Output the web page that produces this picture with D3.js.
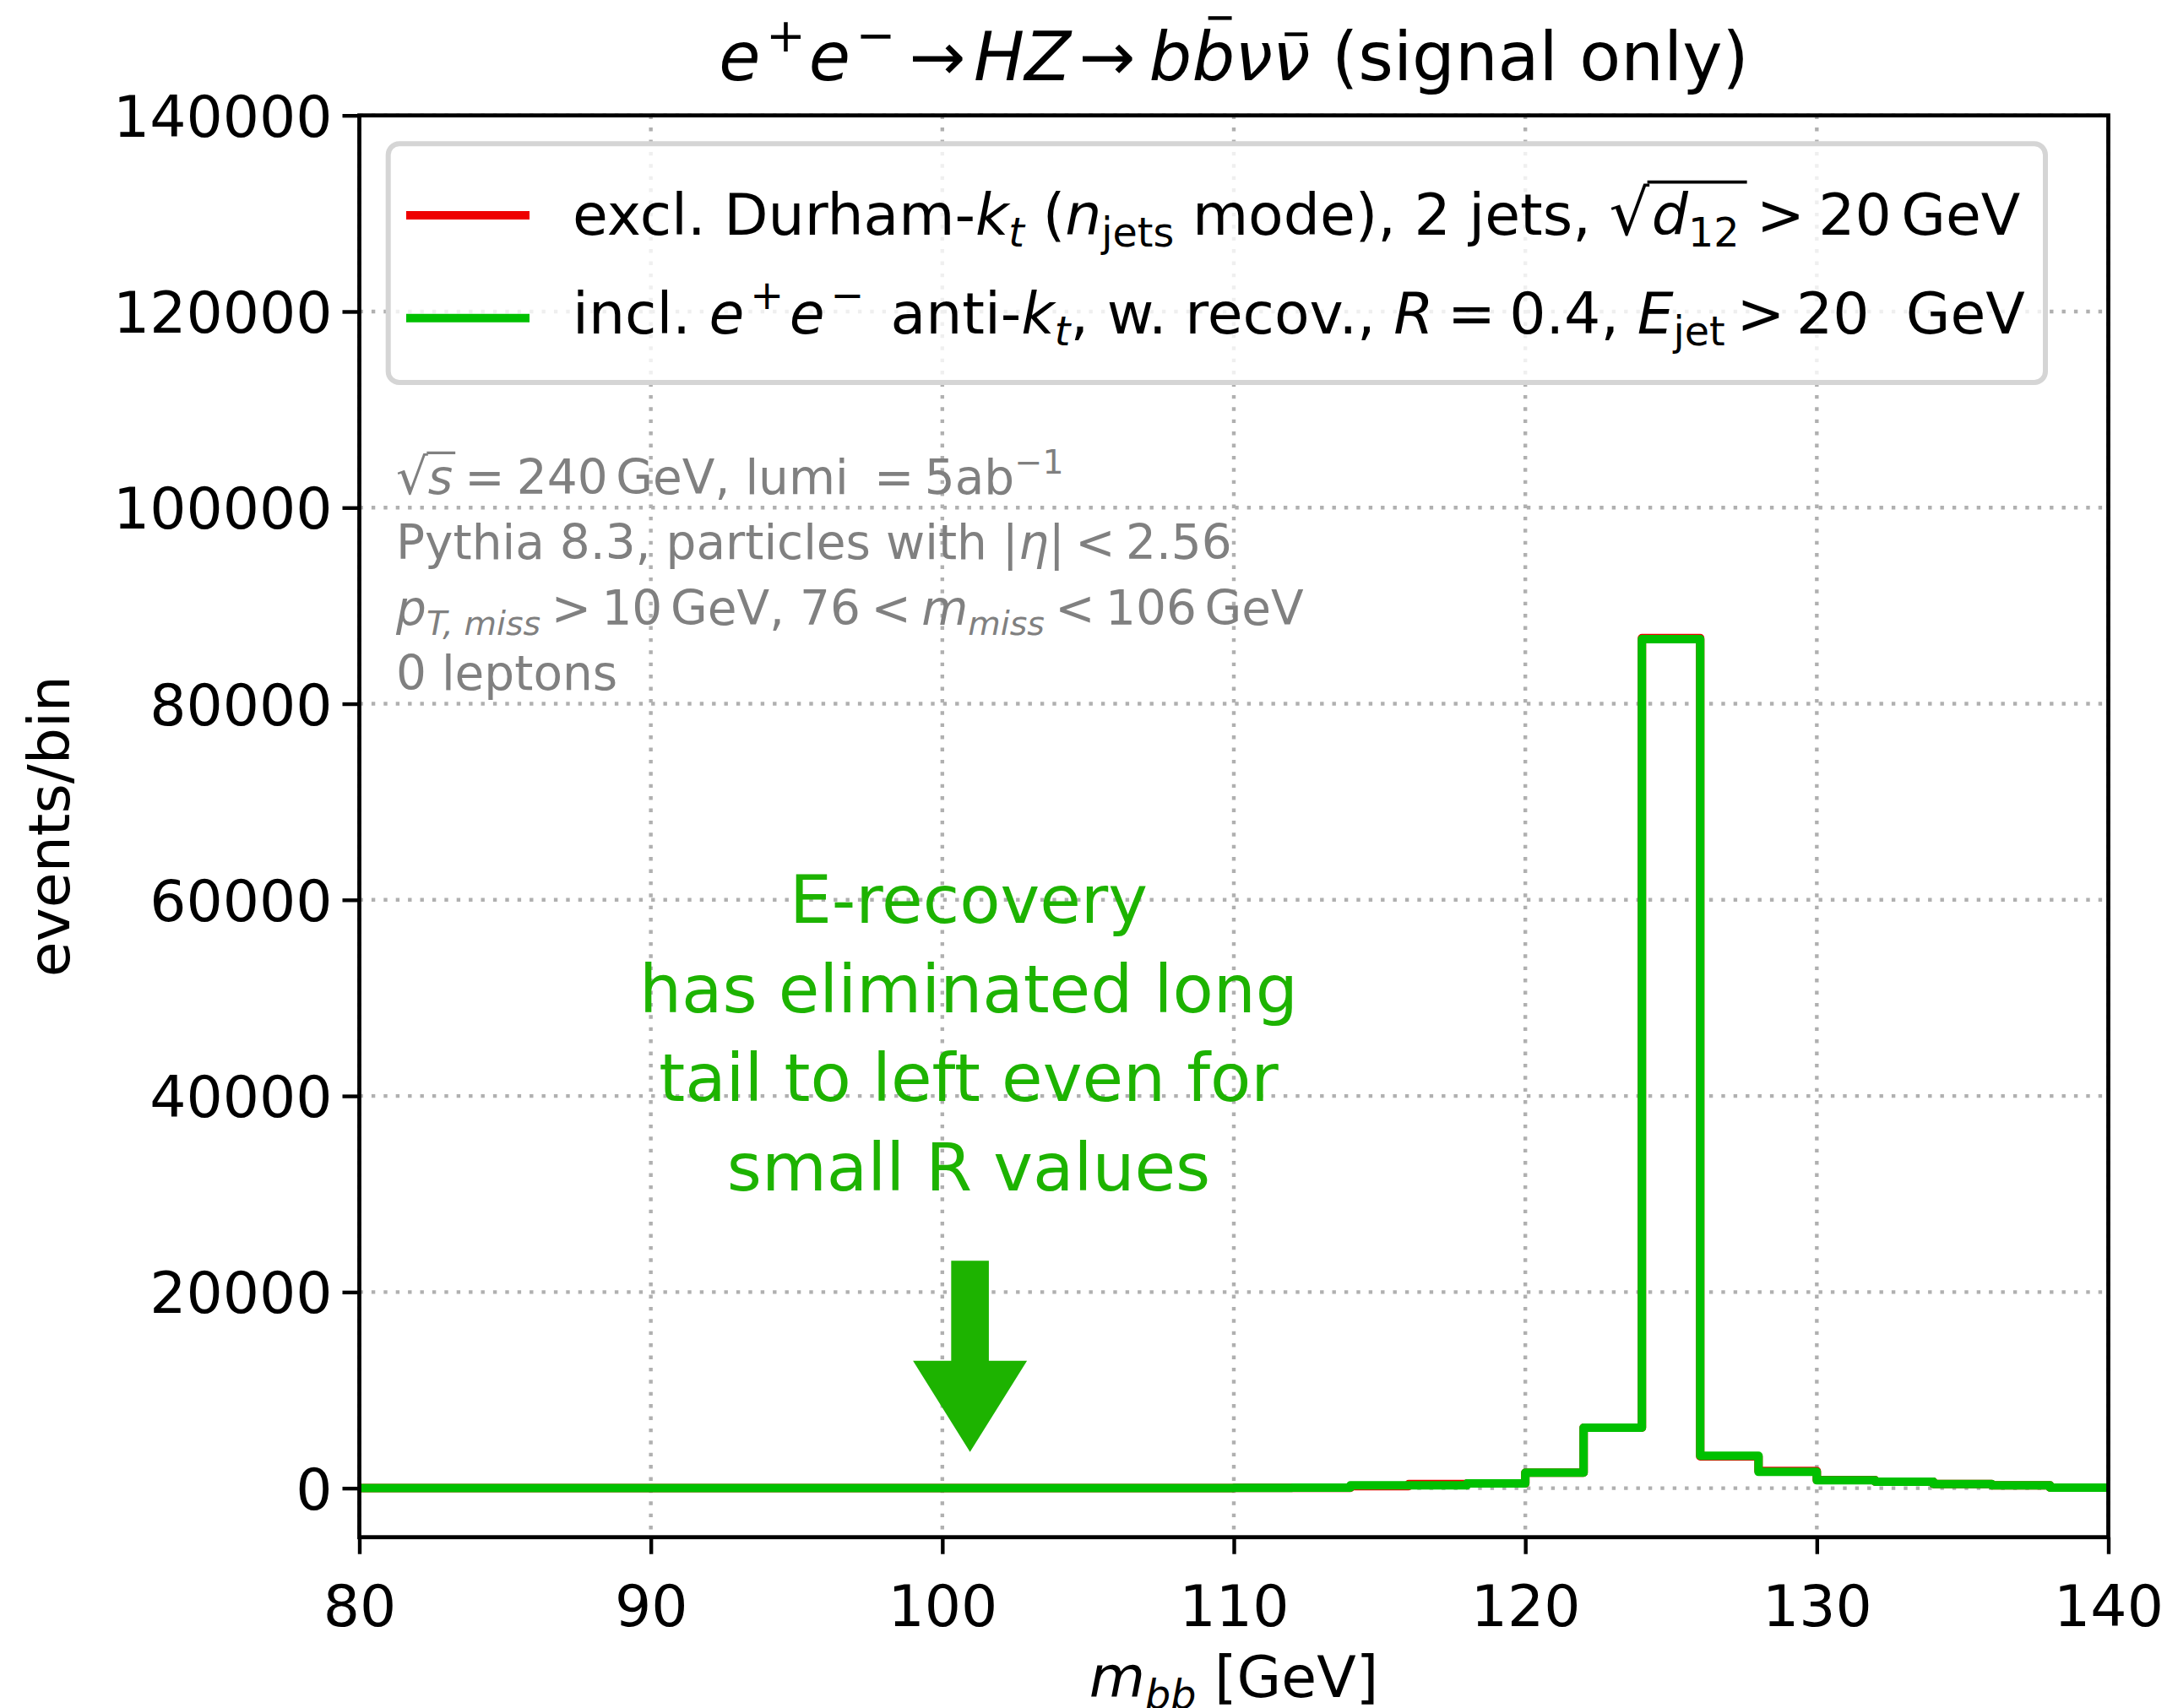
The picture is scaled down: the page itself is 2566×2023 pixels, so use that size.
<!DOCTYPE html>
<html>
<head>
<meta charset="utf-8">
<script src="https://cdn.jsdelivr.net/npm/d3@7"></script>
<style>
  html, body { margin: 0; padding: 0; background: #fff; }
  svg { display: block; }
  text { font-family: "DejaVu Sans", sans-serif; white-space: pre; }
</style>
</head>
<body>
<svg id="chart" width="2566" height="2023"></svg>
<script>
// ---- data: m_bb histogram, 2 GeV bins from 80 to 140 GeV ----
const binLow = [80, 82, 84, 86, 88, 90, 92, 94, 96, 98,
                100, 102, 104, 106, 108, 110, 112, 114, 116, 118,
                120, 122, 124, 126, 128, 130, 132, 134, 136, 138];
const binUpper = 140;

// excl. Durham-kt, 2 jets
const durhamCounts = [10, 10, 10, 10, 10, 10, 10, 10, 10, 10,
                      20, 20, 20, 20, 20, 30, 40, 200, 420, 490,
                      1580, 6170, 86700, 3250, 1750, 820, 660, 430, 290, 60];
// incl. e+e- anti-kt with energy recovery, R = 0.4
const antiktCounts = [10, 10, 10, 10, 10, 10, 10, 10, 10, 10,
                      20, 20, 20, 20, 20, 40, 60, 290, 290, 490,
                      1580, 6170, 86590, 3300, 1660, 800, 660, 430, 290, 60];

const xTickValues = [80, 90, 100, 110, 120, 130, 140];
const xTickLabels = ["80", "90", "100", "110", "120", "130", "140"];
const yTickValues = [0, 20000, 40000, 60000, 80000, 100000, 120000, 140000];
const yTickLabels = ["0", "20000", "40000", "60000", "80000", "100000", "120000", "140000"];

const seriesColors = ["#ee0000", "#00c000"];
const annotationColor = "#1db300";

// ---- layout ----
const svg = d3.select("#chart");
const plot = { left: 425.5, right: 2496.5, top: 136.7, bottom: 1820.7 };

const x = d3.scaleLinear().domain([80, 140]).range([plot.left, plot.right]);
const y = d3.scaleLinear().domain([-5000, 140000]).range([plot.bottom, plot.top]);

// Lays out a run of text pieces (italic, sub/superscripts, overbars) one after another.
function richText(parent, segs, px, py, opt) {
  const fs = opt.size, fill = opt.fill || "#000";
  const g = parent.append("g");
  let cx = 0;
  const bars = {};
  segs.forEach(s => {
    const sc = s.s || 1;
    cx += (s.gap || 0) * fs;
    const t = g.append("text")
      .attr("x", cx)
      .attr("y", (s.dy || 0) * fs)
      .attr("font-size", fs * sc)
      .attr("font-style", s.it ? "italic" : "normal")
      .attr("fill", fill)
      .text(s.t);
    const w = t.node().getComputedTextLength();
    if (s.bar) {
      const key = s.bar.id;
      const a = cx + w * (s.bar.a != null ? s.bar.a : 0) + (s.bar.sk || 0) * fs;
      const b = cx + w * (s.bar.b != null ? s.bar.b : 1) + (s.bar.sk || 0) * fs;
      if (!bars[key]) bars[key] = { x0: a, x1: b, h: s.bar.h };
      else { bars[key].x0 = Math.min(bars[key].x0, a); bars[key].x1 = Math.max(bars[key].x1, b); }
    }
    cx += w + (s.after || 0) * fs;
  });
  Object.values(bars).forEach(bb => {
    g.append("line")
      .attr("x1", bb.x0).attr("x2", bb.x1)
      .attr("y1", -bb.h * fs).attr("y2", -bb.h * fs)
      .attr("stroke", fill).attr("stroke-width", fs * 0.055);
  });
  const shift = opt.anchor === "middle" ? -cx / 2 : opt.anchor === "end" ? -cx : 0;
  g.attr("transform", `translate(${px},${py}) rotate(${opt.rotate || 0}) translate(${shift},0)`);
  return g;
}

// ---- grid ----
const grid = svg.append("g").attr("stroke", "#b0b0b0").attr("stroke-width", 4.4)
  .attr("stroke-dasharray", "4.4,10");
grid.selectAll("line.gx").data(xTickValues).join("line")
  .attr("x1", d => x(d)).attr("x2", d => x(d))
  .attr("y1", plot.top).attr("y2", plot.bottom);
grid.selectAll("line.gy").data(yTickValues).join("line")
  .attr("y1", d => y(d)).attr("y2", d => y(d))
  .attr("x1", plot.left).attr("x2", plot.right);

// ---- histograms (step outlines) ----
svg.append("clipPath").attr("id", "plotClip").append("rect")
  .attr("x", plot.left).attr("y", plot.top)
  .attr("width", plot.right - plot.left).attr("height", plot.bottom - plot.top);

function stepPoints(counts) {
  const pts = binLow.map((lo, i) => [lo, counts[i]]);
  pts.push([binUpper, counts[counts.length - 1]]);
  return pts;
}
const stepLine = d3.line().x(d => x(d[0])).y(d => y(d[1])).curve(d3.curveStepAfter);

const hist = svg.append("g").attr("clip-path", "url(#plotClip)");
[durhamCounts, antiktCounts].forEach((counts, i) => {
  hist.append("path")
    .attr("d", stepLine(stepPoints(counts)))
    .attr("fill", "none")
    .attr("stroke", seriesColors[i])
    .attr("stroke-width", 10)
    .attr("stroke-linejoin", "round");
});

// ---- legend ----
const legend = svg.append("g");
legend.append("rect")
  .attr("x", 459.7).attr("y", 170.3)
  .attr("width", 1962.3).attr("height", 282.7)
  .attr("rx", 13).attr("ry", 13)
  .attr("fill", "#fff").attr("fill-opacity", 0.8)
  .attr("stroke", "#d5d5d5").attr("stroke-width", 6);
const legendRows = [255, 376.7];
legendRows.forEach((ly, i) => {
  legend.append("line")
    .attr("x1", 481).attr("x2", 627).attr("y1", ly).attr("y2", ly)
    .attr("stroke", seriesColors[i]).attr("stroke-width", 10);
});
const LF = 68;
richText(legend, [
  { t: "excl. Durham-" },
  { t: "k", it: 1 },
  { t: "t", it: 1, s: 0.7, dy: 0.2 },
  { t: " (" },
  { t: "n", it: 1 },
  { t: "jets", s: 0.7, dy: 0.2 },
  { t: " mode), 2 jets, " },
  { t: "√", s: 1.1 },
  { t: "d", it: 1, gap: 0.04, bar: { id: "r", h: 0.92, a: -0.12 } },
  { t: "12", s: 0.7, dy: 0.2, bar: { id: "r", h: 0.92, b: 1.15 } },
  { t: ">", gap: 0.3 },
  { t: "20", gap: 0.24 },
  { t: "GeV", gap: 0.17 }
], 678, 278.3, { size: LF });
richText(legend, [
  { t: "incl. " },
  { t: "e", it: 1 },
  { t: "+", s: 0.7, dy: -0.42, gap: 0.1 },
  { t: "e", it: 1, gap: 0.1 },
  { t: "−", s: 0.7, dy: -0.42, gap: 0.1 },
  { t: " anti-", gap: 0.14 },
  { t: "k", it: 1 },
  { t: "t", it: 1, s: 0.7, dy: 0.2 },
  { t: ", w. recov., " },
  { t: "R", it: 1 },
  { t: "=", gap: 0.24 },
  { t: "0.4", gap: 0.24 },
  { t: ", " },
  { t: "E", it: 1 },
  { t: "jet", s: 0.7, dy: 0.2 },
  { t: ">", gap: 0.2 },
  { t: "20", gap: 0.2 },
  { t: "  GeV" }
], 678, 395, { size: LF });

// ---- run conditions ----
const IF = 56.5, infoFill = "#808080", infoX = 469;
richText(svg, [
  { t: "√", s: 1.05 },
  { t: "s", it: 1, bar: { id: "r", h: 0.86, a: -0.05, b: 1.1 } },
  { t: "=", gap: 0.25 },
  { t: "240", gap: 0.25 },
  { t: "GeV", gap: 0.17 },
  { t: ", lumi " },
  { t: "=", gap: 0.22 },
  { t: "5", gap: 0.22 },
  { t: "ab" },
  { t: "−1", s: 0.7, dy: -0.42 }
], infoX, 585, { size: IF, fill: infoFill });
richText(svg, [
  { t: "Pythia 8.3, particles with |" },
  { t: "η", it: 1 },
  { t: "|" },
  { t: "<", gap: 0.22 },
  { t: "2.56", gap: 0.22 }
], infoX, 662, { size: IF, fill: infoFill });
richText(svg, [
  { t: "p", it: 1 },
  { t: "T, miss", it: 1, s: 0.7, dy: 0.22 },
  { t: ">", gap: 0.22 },
  { t: "10", gap: 0.22 },
  { t: "GeV", gap: 0.17 },
  { t: ", 76" },
  { t: "<", gap: 0.22 },
  { t: "m", it: 1, gap: 0.22 },
  { t: "miss", it: 1, s: 0.7, dy: 0.22 },
  { t: "<", gap: 0.22 },
  { t: "106", gap: 0.22 },
  { t: "GeV", gap: 0.17 }
], infoX, 740, { size: IF, fill: infoFill });
richText(svg, [{ t: "0 leptons" }], infoX, 817, { size: IF, fill: infoFill });

// ---- annotation ----
const annLines = ["E-recovery", "has eliminated long", "tail to left even for", "small R values"];
const annX = 1147, annBase = 1093, annStep = 105.5;
svg.append("g").selectAll("text").data(annLines).join("text")
  .attr("x", annX).attr("y", (d, i) => annBase + i * annStep)
  .attr("text-anchor", "middle")
  .attr("font-size", 79)
  .attr("fill", annotationColor)
  .text(d => d);

// arrow pointing at the low-mass region
const arrowX = 100.95, arrowTail = 23200, arrowTip = 3700;
const ax = x(arrowX), at = y(arrowTail), ap = y(arrowTip);
const shaftHalf = 22.3, headHalf = 67.5, headLen = 108;
svg.append("path")
  .attr("d", `M${ax - shaftHalf},${at} L${ax + shaftHalf},${at} L${ax + shaftHalf},${ap - headLen}
              L${ax + headHalf},${ap - headLen} L${ax},${ap} L${ax - headHalf},${ap - headLen}
              L${ax - shaftHalf},${ap - headLen} Z`)
  .attr("fill", annotationColor);

// ---- axes frame and ticks ----
svg.append("rect")
  .attr("x", plot.left).attr("y", plot.top)
  .attr("width", plot.right - plot.left).attr("height", plot.bottom - plot.top)
  .attr("fill", "none").attr("stroke", "#000").attr("stroke-width", 4.8);

const xAxis = d3.axisBottom(x).tickValues(xTickValues)
  .tickFormat((d, i) => xTickLabels[i]).tickSizeInner(20).tickSizeOuter(0).tickPadding(22);
const gx = svg.append("g").attr("transform", `translate(0,${plot.bottom})`).call(xAxis);
gx.select(".domain").remove();
gx.selectAll(".tick line").attr("stroke", "#000").attr("stroke-width", 4.4);
gx.selectAll(".tick text").attr("font-size", 68).attr("fill", "#000")
  .attr("font-family", "DejaVu Sans").attr("dy", null).attr("y", 105);

const yAxis = d3.axisLeft(y).tickValues(yTickValues)
  .tickFormat((d, i) => yTickLabels[i]).tickSizeInner(20).tickSizeOuter(0).tickPadding(12);
const gy = svg.append("g").attr("transform", `translate(${plot.left},0)`).call(yAxis);
gy.select(".domain").remove();
gy.selectAll(".tick line").attr("stroke", "#000").attr("stroke-width", 4.4);
gy.selectAll(".tick text").attr("font-size", 68).attr("fill", "#000")
  .attr("font-family", "DejaVu Sans").attr("dy", "0.36em");

// ---- titles ----
const TF = 80;
richText(svg, [
  { t: "e", it: 1 },
  { t: "+", s: 0.7, dy: -0.42, gap: 0.08 },
  { t: "e", it: 1, gap: 0.05 },
  { t: "−", s: 0.7, dy: -0.42, gap: 0.08 },
  { t: "→", gap: 0.2 },
  { t: "HZ", it: 1, gap: 0.12 },
  { t: "→", gap: 0.12 },
  { t: "b", it: 1, gap: 0.2 },
  { t: "b", it: 1, bar: { id: "b1", h: 0.92, a: 0.3, b: 0.85, sk: 0.05 } },
  { t: "ν", it: 1 },
  { t: "ν", it: 1, bar: { id: "b2", h: 0.68, a: 0.25, b: 0.85, sk: 0.04 } },
  { t: " (signal only)" }
], (plot.left + plot.right) / 2, 95, { size: TF, anchor: "middle" });

richText(svg, [
  { t: "m", it: 1 },
  { t: "bb", it: 1, s: 0.7, dy: 0.2 },
  { t: " [GeV]" }
], (plot.left + plot.right) / 2, 2010, { size: 68, anchor: "middle" });

richText(svg, [{ t: "events/bin" }], 82, (plot.top + plot.bottom) / 2,
  { size: 68, anchor: "middle", rotate: -90 });
</script>
</body>
</html>
